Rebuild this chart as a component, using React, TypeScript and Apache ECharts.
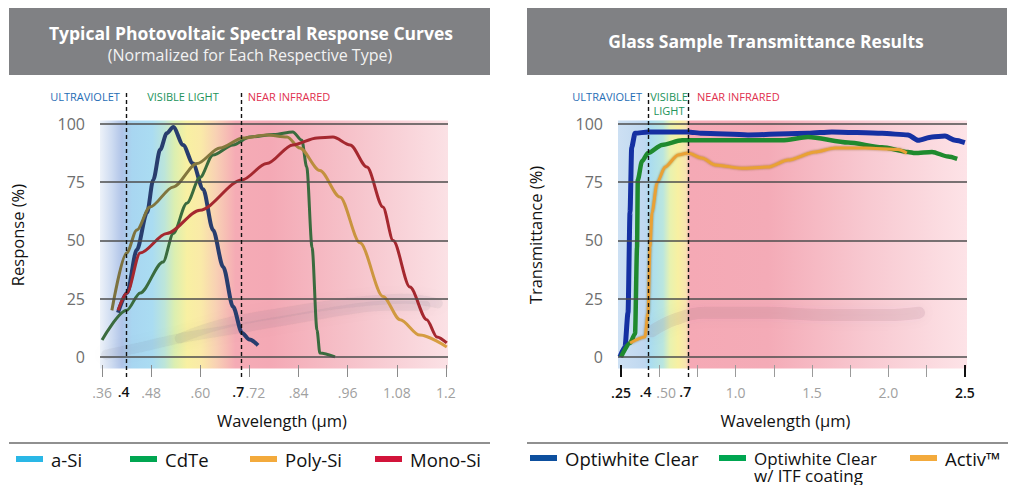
import React, { useEffect, useRef } from 'react';
import * as echarts from 'echarts';

// ---------- data ----------
const yTicks = [0, 25, 50, 75, 100];

const pvTicks = [0.36, 0.48, 0.6, 0.72, 0.84, 0.96, 1.08, 1.2];
const pvTickLabels = ['.36', '.48', '.60', '.72', '.84', '.96', '1.08', '1.2'];
const pvMarkers = [0.421, 0.702];
const pvMarkerLabels = ['.4', '.7'];

const glassTicks = [0.25, 0.5, 0.75, 1.0, 1.25, 1.5, 1.75, 2.0, 2.25, 2.5];
const glassTickLabels = ['.25', '.50', '', '1.0', '', '1.5', '', '2.0', '', '2.5'];
const glassEdgeTicks = [0.25, 2.5];
const glassMarkers = [0.427, 0.695];
const glassMarkerLabels = ['.4', '.7'];

const pvNames = ['a-Si', 'CdTe', 'Poly-Si', 'Mono-Si'];
const glassNames = ['Optiwhite Clear', 'Optiwhite Clear w/ ITF coating', 'Activ™'];

const aSi = [
  [0.399, 19], [0.421, 27.5], [0.445, 46], [0.47, 62], [0.485, 76], [0.502, 89], [0.518, 96],
  [0.534, 98.7], [0.558, 91], [0.582, 83], [0.607, 72], [0.631, 54.5], [0.656, 38.6],
  [0.68, 21.5], [0.702, 10.3], [0.72, 7.5], [0.741, 5],
];
const cdTe = [
  [0.36, 7.3], [0.42, 20], [0.453, 27.5], [0.509, 40.8], [0.534, 53], [0.567, 66], [0.599, 77],
  [0.631, 86.7], [0.68, 91], [0.721, 94.4], [0.78, 95.5], [0.826, 96.6], [0.848, 93], [0.86, 81.5],
  [0.873, 47], [0.885, 11.6], [0.892, 1.7], [0.929, 0],
];
const polySi = [
  [0.384, 20], [0.42, 44.6], [0.445, 54.5], [0.477, 64.4], [0.534, 73], [0.592, 83], [0.648, 89.7],
  [0.704, 94], [0.762, 95.3], [0.812, 94.4], [0.843, 89.7], [0.892, 80], [0.941, 68.7], [0.99, 49],
  [1.046, 26], [1.088, 16], [1.136, 9.4], [1.202, 4.3],
];
const monoSi = [
  [0.399, 20], [0.421, 27.5], [0.453, 44.6], [0.518, 53], [0.599, 63], [0.702, 76], [0.762, 83],
  [0.826, 91], [0.885, 94], [0.924, 94.4], [0.966, 91], [1.007, 81.5], [1.046, 64.4], [1.071, 50],
  [1.112, 30], [1.153, 16], [1.178, 8.6], [1.202, 6],
];
// faint reflection streaks in the photo-like background
const pvStreakA = [[0.37, 1], [0.45, 4], [0.55, 8], [0.65, 11], [0.75, 14], [0.85, 17], [0.95, 20], [1.05, 22], [1.15, 22]];
const pvStreakB = [[0.55, 8], [0.65, 14], [0.8, 19], [0.95, 23], [1.1, 25], [1.18, 23]];

const optiwhite = [
  [0.243, 0], [0.276, 4.3], [0.296, 19], [0.309, 62], [0.32, 90], [0.342, 96], [0.427, 96.6],
  [0.688, 96.6], [0.78, 96], [1.081, 95.3], [1.474, 96], [1.63, 96.6], [1.958, 96], [2.128, 95.3],
  [2.194, 93], [2.285, 94.4], [2.37, 94.8], [2.436, 93], [2.5, 92],
];
const optiwhiteItf = [
  [0.25, 0], [0.309, 6], [0.342, 10], [0.355, 47], [0.36, 76], [0.387, 84], [0.427, 87.5],
  [0.518, 91], [0.65, 93], [0.866, 93], [1.303, 93], [1.474, 94.4], [1.736, 92], [1.958, 90],
  [2.128, 88], [2.174, 87.5], [2.285, 88], [2.39, 86], [2.45, 85],
];
const activ = [
  [0.309, 6], [0.407, 8.6], [0.427, 19], [0.44, 47], [0.453, 62], [0.486, 74.7], [0.538, 81.5],
  [0.623, 86.7], [0.688, 87.5], [0.78, 85.4], [0.866, 82.4], [1.042, 81], [1.212, 81.5],
  [1.343, 84.5], [1.52, 88], [1.65, 89.7], [1.847, 89.7], [2.063, 89], [2.12, 87.5],
];
const glassStreak = [[0.45, 11], [0.6, 16], [0.8, 19], [1.2, 19], [1.6, 18], [2.0, 18], [2.2, 19]];

const FONT = '"Open Sans", "Noto Sans", sans-serif';

function idxOf(arr: number[], v: number) {
  return arr.findIndex((t) => Math.abs(t - v) < 1e-6);
}

export default function App() {
  const ref = useRef<HTMLDivElement>(null);

  useEffect(() => {
    document.body.style.margin = '0';
    const chart = echarts.init(ref.current!, null, { renderer: 'svg' });

    const yMin = -8.6;
    const yMax = 113.3;

    const pvBg = new echarts.graphic.LinearGradient(0, 0, 1, 0, [
      { offset: 0, color: '#edf2f9' },
      { offset: 0.035, color: '#cddbf1' },
      { offset: 0.063, color: '#b0c4e8' },
      { offset: 0.092, color: '#a8d6f1' },
      { offset: 0.15, color: '#aadcf2' },
      { offset: 0.185, color: '#bce5da' },
      { offset: 0.215, color: '#dcefb0' },
      { offset: 0.25, color: '#f8f0a2' },
      { offset: 0.29, color: '#faeaa8' },
      { offset: 0.335, color: '#f8d0b4' },
      { offset: 0.39, color: '#f5abb5' },
      { offset: 0.49, color: '#f4a9b5' },
      { offset: 0.72, color: '#f6c2ca' },
      { offset: 1, color: '#fbe1e5' },
    ]);
    const glassBg = new echarts.graphic.LinearGradient(0, 0, 1, 0, [
      { offset: 0, color: '#cde0f3' },
      { offset: 0.077, color: '#bfd8f0' },
      { offset: 0.092, color: '#aadcf0' },
      { offset: 0.129, color: '#bae6df' },
      { offset: 0.149, color: '#e8f2b0' },
      { offset: 0.172, color: '#f8f0a2' },
      { offset: 0.195, color: '#f8e4b0' },
      { offset: 0.206, color: '#f5a9b5' },
      { offset: 0.43, color: '#f4abb7' },
      { offset: 0.716, color: '#f8c9d1' },
      { offset: 1, color: '#fde3e7' },
    ]);

    const gridLines = yTicks.map((v) => ({ yAxis: v }));
    const dashStyle = { type: [4, 3], color: '#111', width: 1.4 };
    const markerLabel = {
      show: true,
      position: 'start',
      distance: 7,
      color: '#111',
      fontSize: 14,
      fontWeight: 600,
      fontFamily: FONT,
      padding: [0, 6, 0, 0],
    };

    const yAxisCommon = (gridIndex: number, name: string) => ({
      type: 'value',
      gridIndex,
      min: yMin,
      max: yMax,
      name,
      nameLocation: 'middle',
      nameGap: 74,
      nameTextStyle: { fontSize: 16.5, color: '#111', fontFamily: FONT },
      axisLine: { show: false },
      axisTick: { show: false },
      splitLine: { show: false },
      axisLabel: {
        customValues: yTicks,
        color: '#6e6e6e',
        fontSize: 16,
        margin: 15,
        fontFamily: FONT,
      },
    });

    const legendText = (w: number, extra: any = {}) => ({ width: w, padding: [0, 0, 0, 3], ...extra });

    const streakStyle = {
      color: 'rgba(105,95,115,0.09)',
      width: 10,
      shadowColor: 'rgba(105,95,115,0.25)',
      shadowBlur: 12,
      cap: 'round',
    };

    const option: any = {
      animation: false,
      backgroundColor: '#ffffff',
      textStyle: { fontFamily: FONT },
      grid: [
        { left: 100, top: 93, width: 348, height: 284 },
        { left: 618, top: 93, width: 349, height: 284 },
      ],
      xAxis: [
        {
          type: 'value',
          gridIndex: 0,
          position: 'bottom',
          z: 10,
          min: 0.355,
          max: 1.205,
          name: 'Wavelength (µm)',
          nameLocation: 'middle',
          nameGap: 35,
          nameTextStyle: { fontSize: 16.5, color: '#111', fontFamily: FONT, padding: [0, 0, 0, 16] },
          axisLine: { show: false, onZero: false },
          splitLine: { show: false },
          axisTick: {
            customValues: pvTicks,
            inside: true,
            length: 12,
            lineStyle: { color: '#8a8a8a', width: 1 },
          },
          axisLabel: {
            customValues: pvTicks,
            margin: 8,
            fontFamily: FONT,
            formatter: (v: number) => {
              const i = idxOf(pvTicks, v);
              if (i < 0) return '';
              return pvTickLabels[i] === '.72' ? `{s|${pvTickLabels[i]}}` : `{g|${pvTickLabels[i]}}`;
            },
            rich: {
              g: { color: '#a0a0a0', fontSize: 14, fontFamily: FONT },
              s: { color: '#a0a0a0', fontSize: 14, fontFamily: FONT, padding: [0, 0, 0, 12] },
            },
          },
        },
        {
          type: 'value',
          gridIndex: 1,
          position: 'bottom',
          z: 10,
          min: 0.2304,
          max: 2.514,
          name: 'Wavelength (µm)',
          nameLocation: 'middle',
          nameGap: 35,
          nameTextStyle: { fontSize: 16.5, color: '#111', fontFamily: FONT, padding: [0, 14, 0, 0] },
          axisLine: { show: false, onZero: false },
          splitLine: { show: false },
          axisTick: {
            customValues: glassTicks,
            inside: true,
            length: 12,
            lineStyle: { color: '#9a9a9a', width: 1 },
          },
          axisLabel: {
            customValues: glassTicks,
            margin: 8,
            fontFamily: FONT,
            formatter: (v: number) => {
              const i = idxOf(glassTicks, v);
              if (i < 0 || !glassTickLabels[i]) return '';
              const edge = i === 0 || i === glassTicks.length - 1;
              if (edge) return `{k|${glassTickLabels[i]}}`;
              return i === 1 ? `{s|${glassTickLabels[i]}}` : `{g|${glassTickLabels[i]}}`;
            },
            rich: {
              k: { color: '#111', fontSize: 14, fontWeight: 600, fontFamily: FONT },
              g: { color: '#a0a0a0', fontSize: 14, fontFamily: FONT },
              s: { color: '#a0a0a0', fontSize: 14, fontFamily: FONT, padding: [0, 0, 0, 14] },
            },
          },
        },
        {
          type: 'value',
          gridIndex: 1,
          position: 'bottom',
          z: 11,
          min: 0.2304,
          max: 2.514,
          axisLine: { show: false, onZero: false },
          splitLine: { show: false },
          axisLabel: { show: false },
          axisTick: {
            customValues: glassEdgeTicks,
            inside: true,
            length: 12,
            lineStyle: { color: '#111', width: 2 },
          },
        },
      ],
      yAxis: [yAxisCommon(0, 'Response (%)'), yAxisCommon(1, 'Transmittance (%)')],
      legend: [
        {
          left: 16,
          top: 449.5,
          padding: 0,
          itemGap: 0,
          icon: 'rect',
          itemWidth: 27,
          itemHeight: 6,
          textStyle: { fontSize: 18.5, color: '#111', lineHeight: 17, fontFamily: FONT },
          data: [
            { name: 'a-Si', itemStyle: { color: '#2ab7e6' }, textStyle: legendText(79) },
            { name: 'CdTe', itemStyle: { color: '#00a651' }, textStyle: legendText(85) },
            { name: 'Poly-Si', itemStyle: { color: '#f3aa3c' }, textStyle: legendText(90) },
            { name: 'Mono-Si', itemStyle: { color: '#d2143a' }, textStyle: legendText(80) },
          ],
        },
        {
          left: 530,
          top: 432.5,
          padding: 0,
          itemGap: 0,
          icon: 'rect',
          itemWidth: 27,
          itemHeight: 6,
          textStyle: { fontSize: 18.5, color: '#111', lineHeight: 17, fontFamily: FONT },
          formatter: (name: string) =>
            name === glassNames[1] ? '\nOptiwhite Clear\nw/ ITF coating' : name,
          data: [
            { name: glassNames[0], itemStyle: { color: '#0d4f9e' }, textStyle: legendText(154) },
            { name: glassNames[1], itemStyle: { color: '#00a651' }, textStyle: legendText(156, { fontSize: 17 }) },
            { name: glassNames[2], itemStyle: { color: '#f3aa3c' }, textStyle: legendText(70) },
          ],
        },
      ],
      graphic: [
        { type: 'rect', shape: { x: 9, y: 8, width: 481, height: 67 }, style: { fill: '#808184' } },
        { type: 'rect', shape: { x: 527, y: 8, width: 480, height: 67 }, style: { fill: '#808184' } },
        {
          type: 'text', x: 251, y: 33,
          style: { text: 'Typical Photovoltaic Spectral Response Curves', fill: '#fff', fontSize: 17.5, fontWeight: 'bold', fontFamily: FONT, align: 'center', verticalAlign: 'middle' },
        },
        {
          type: 'text', x: 250, y: 55,
          style: { text: '(Normalized for Each Respective Type)', fill: '#f2f2f2', fontSize: 16, fontFamily: FONT, align: 'center', verticalAlign: 'middle' },
        },
        {
          type: 'text', x: 766, y: 41,
          style: { text: 'Glass Sample Transmittance Results', fill: '#fff', fontSize: 17.5, fontWeight: 'bold', fontFamily: FONT, align: 'center', verticalAlign: 'middle' },
        },
        { type: 'text', x: 85, y: 96, style: { text: 'ULTRAVIOLET', fill: '#1f6db5', fontSize: 11, fontFamily: FONT, align: 'center', verticalAlign: 'middle' } },
        { type: 'text', x: 183, y: 96, style: { text: 'VISIBLE LIGHT', fill: '#23935a', fontSize: 11, fontFamily: FONT, align: 'center', verticalAlign: 'middle' } },
        { type: 'text', x: 289, y: 96, style: { text: 'NEAR INFRARED', fill: '#e0304e', fontSize: 11, fontFamily: FONT, align: 'center', verticalAlign: 'middle' } },
        { type: 'text', x: 642, y: 96, style: { text: 'ULTRAVIOLET', fill: '#1f6db5', fontSize: 11, fontFamily: FONT, align: 'right', verticalAlign: 'middle' } },
        { type: 'text', x: 669, y: 96, style: { text: 'VISIBLE', fill: '#23935a', fontSize: 11, fontFamily: FONT, align: 'center', verticalAlign: 'middle' } },
        { type: 'text', x: 669, y: 110, style: { text: 'LIGHT', fill: '#23935a', fontSize: 11, fontFamily: FONT, align: 'center', verticalAlign: 'middle' } },
        { type: 'text', x: 697, y: 96, style: { text: 'NEAR INFRARED', fill: '#e0304e', fontSize: 11, fontFamily: FONT, align: 'left', verticalAlign: 'middle' } },
        { type: 'line', shape: { x1: 9, y1: 443, x2: 490, y2: 443 }, style: { stroke: '#222', lineWidth: 1.2 } },
        { type: 'line', shape: { x1: 527, y1: 443, x2: 1008, y2: 443 }, style: { stroke: '#222', lineWidth: 1.2 } },
      ],
      series: [
        // backgrounds
        {
          name: 'bg-pv', type: 'line', xAxisIndex: 0, yAxisIndex: 0, data: [], z: 0, silent: true,
          markArea: { silent: true, itemStyle: { color: pvBg }, data: [[{ xAxis: 0.355, yAxis: -5 }, { xAxis: 1.205, yAxis: 101.5 }]] },
        },
        {
          name: 'bg-glass', type: 'line', xAxisIndex: 1, yAxisIndex: 1, data: [], z: 0, silent: true,
          markArea: { silent: true, itemStyle: { color: glassBg }, data: [[{ xAxis: 0.2304, yAxis: -5 }, { xAxis: 2.514, yAxis: 101.5 }]] },
        },
        // reflection streaks
        { name: 'streak-a', type: 'line', xAxisIndex: 0, yAxisIndex: 0, data: pvStreakA, smooth: 0.4, showSymbol: false, silent: true, z: 1, lineStyle: streakStyle },
        { name: 'streak-b', type: 'line', xAxisIndex: 0, yAxisIndex: 0, data: pvStreakB, smooth: 0.4, showSymbol: false, silent: true, z: 1, lineStyle: streakStyle },
        { name: 'streak-c', type: 'line', xAxisIndex: 1, yAxisIndex: 1, data: glassStreak, smooth: 0.4, showSymbol: false, silent: true, z: 1, lineStyle: { ...streakStyle, width: 12, color: 'rgba(140,90,110,0.14)' } },
        // horizontal grid lines
        {
          name: 'grid-pv', type: 'line', xAxisIndex: 0, yAxisIndex: 0, data: [], z: 1, silent: true,
          markLine: { silent: true, symbol: 'none', label: { show: false }, lineStyle: { color: '#4d4d4d', width: 1.6, type: 'solid' }, data: gridLines },
        },
        {
          name: 'grid-glass', type: 'line', xAxisIndex: 1, yAxisIndex: 1, data: [], z: 1, silent: true,
          markLine: { silent: true, symbol: 'none', label: { show: false }, lineStyle: { color: '#4d4d4d', width: 1.6, type: 'solid' }, data: gridLines },
        },
        // curves
        { name: pvNames[0], type: 'line', xAxisIndex: 0, yAxisIndex: 0, data: aSi, smooth: 0.3, smoothMonotone: 'x', showSymbol: false, z: 2, lineStyle: { color: '#283d6e', width: 4 }, itemStyle: { color: '#283d6e' } },
        { name: pvNames[1], type: 'line', xAxisIndex: 0, yAxisIndex: 0, data: cdTe, smooth: 0.3, smoothMonotone: 'x', showSymbol: false, z: 2, lineStyle: { color: '#3a6b3e', width: 3 }, itemStyle: { color: '#3a6b3e' } },
        {
          name: pvNames[2], type: 'line', xAxisIndex: 0, yAxisIndex: 0, data: polySi, smooth: 0.3, smoothMonotone: 'x', showSymbol: false, z: 2,
          lineStyle: {
            width: 3,
            color: new echarts.graphic.LinearGradient(0, 0, 1, 0, [
              { offset: 0, color: '#7c7240' },
              { offset: 0.5, color: '#8a7c3c' },
              { offset: 0.62, color: '#c4903e' },
              { offset: 1, color: '#d99f42' },
            ]),
          },
          itemStyle: { color: '#d99f42' },
        },
        { name: pvNames[3], type: 'line', xAxisIndex: 0, yAxisIndex: 0, data: monoSi, smooth: 0.3, smoothMonotone: 'x', showSymbol: false, z: 2, lineStyle: { color: '#a5282f', width: 3 }, itemStyle: { color: '#a5282f' } },
        { name: glassNames[0], type: 'line', xAxisIndex: 1, yAxisIndex: 1, data: optiwhite, smooth: 0.25, smoothMonotone: 'x', showSymbol: false, z: 2, lineStyle: { color: '#1530a2', width: 5 }, itemStyle: { color: '#1530a2' } },
        { name: glassNames[1], type: 'line', xAxisIndex: 1, yAxisIndex: 1, data: optiwhiteItf, smooth: 0.25, smoothMonotone: 'x', showSymbol: false, z: 2, lineStyle: { color: '#1f8a2e', width: 4.5 }, itemStyle: { color: '#1f8a2e' } },
        { name: glassNames[2], type: 'line', xAxisIndex: 1, yAxisIndex: 1, data: activ, smooth: 0.25, smoothMonotone: 'x', showSymbol: false, z: 2, lineStyle: { color: '#e9a135', width: 3, shadowColor: 'rgba(120,80,20,0.6)', shadowBlur: 2 }, itemStyle: { color: '#e9a135' } },
        // dashed region markers
        {
          name: 'mark-pv', type: 'line', xAxisIndex: 0, yAxisIndex: 0, data: [], z: 3, silent: true,
          markLine: {
            silent: true, symbol: 'none', lineStyle: dashStyle,
            data: pvMarkers.map((v, i) => ({ xAxis: v, label: { ...markerLabel, formatter: pvMarkerLabels[i] } })),
          },
        },
        {
          name: 'mark-glass', type: 'line', xAxisIndex: 1, yAxisIndex: 1, data: [], z: 3, silent: true,
          markLine: {
            silent: true, symbol: 'none', lineStyle: dashStyle,
            data: glassMarkers.map((v, i) => ({ xAxis: v, label: { ...markerLabel, formatter: glassMarkerLabels[i] } })),
          },
        },
      ],
    };

    chart.setOption(option);
    return () => chart.dispose();
  }, []);

  return (
    <div
      ref={ref}
      style={{ position: 'absolute', left: 0, top: 0, width: 1021, height: 485, background: '#fff' }}
    />
  );
}
